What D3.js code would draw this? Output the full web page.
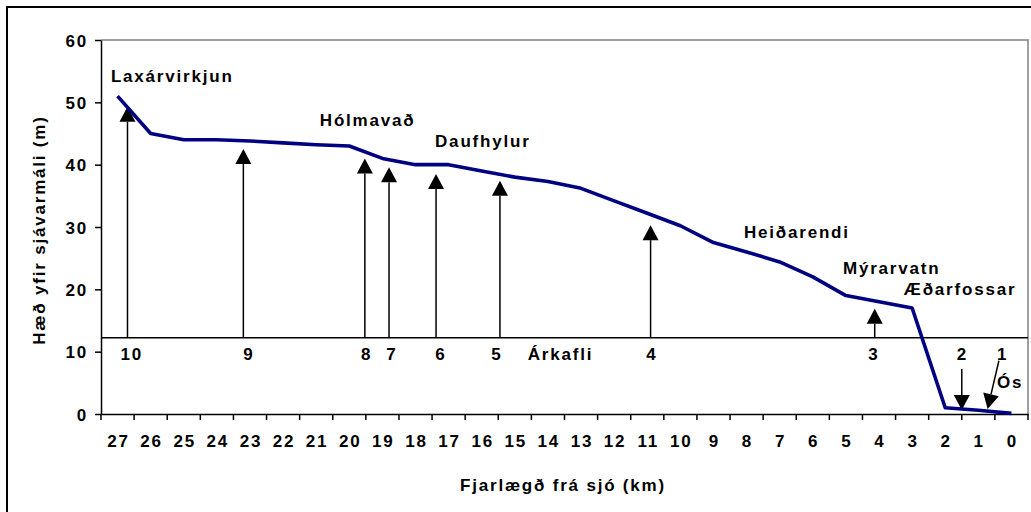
<!DOCTYPE html>
<html>
<head>
<meta charset="utf-8">
<script src="https://cdn.jsdelivr.net/npm/d3@7"></script>
<style>
  body { margin: 0; background: #fff; }
  svg text { font-family: "Liberation Sans", Arial, sans-serif; font-weight: bold; font-size: 17px; letter-spacing: 1.8px; fill: #000; }
</style>
</head>
<body>
<svg id="chart" width="1031" height="512"></svg>
<script>
// ---- data ----
const kmCategories = ["27","26","25","24","23","22","21","20","19","18","17","16","15","14","13","12","11","10","9","8","7","6","5","4","3","2","1","0"];
const elevation = [51, 45, 44, 44, 43.8, 43.5, 43.2, 43, 41, 40, 40, 39, 38, 37.3, 36.2, 34.2, 32.2, 30.2, 27.5, 26, 24.4, 22, 19, 18, 17, 1, 0.6, 0.1];
const yTicks = [0, 10, 20, 30, 40, 50, 60];
const yTitle = "Hæð yfir sjávarmáli (m)";
const xTitle = "Fjarlægð frá sjó (km)";

// station arrows (upward from reference line)
const baseLevel = 12.25;
const upArrowKm = [26.7, 23.2, 19.53, 18.8, 17.38, 15.45, 10.9, 4.13];
const upArrowTip = [49.3, 42.5, 41.0, 39.6, 38.5, 37.4, 30.3, 16.9];
// downward arrows: tail km, tail value, tip km, tip value
const downArrowTailKm = [1.5, 0.38];
const downArrowTailVal = [7.2, 8.55];
const downArrowTipKm = [1.5, 0.72];
const downArrowTipVal = [0.65, 0.8];

// station numbers
const stationNumbers = ["10","9","8","7","6","5","4","3","2","1"];
const stationNumberKm = [26.6, 23.06, 19.5, 18.74, 17.26, 15.57, 10.89, 4.18, 1.51, 0.29];
const stationNumberVal = 8.66;

// place names (left-aligned)
const placeNames = ["Laxárvirkjun","Hólmavað","Daufhylur","Árkafli","Heiðarendi","Mýrarvatn","Æðarfossar","Ós"];
const placeKm = [27.2, 20.89, 17.41, 14.61, 8.08, 5.09, 3.25, 0.44];
const placeVal = [53.3, 46.2, 42.8, 8.66, 28.2, 22.5, 19.1, 4.2];

// ---- layout ----
const svg = d3.select("#chart");
const pLeft = 101, pRight = 1028, pTop = 40, pBottom = 414;

// outer frame (cropped chart border)
svg.append("rect").attr("x", 7).attr("y", 7).attr("width", 1040).attr("height", 520)
  .attr("fill", "none").attr("stroke", "#000").attr("stroke-width", 2);

const x = d3.scaleBand().domain(kmCategories).range([pLeft, pRight]).padding(0);
const bw = x.bandwidth();
const xKm = d3.scaleLinear().domain([27, 0]).range([x("27") + bw / 2, x("0") + bw / 2]);
const y = d3.scaleLinear().domain([0, 60]).range([pBottom, pTop]);

// plot area border (top & right grey)
svg.append("path").attr("d", `M${pLeft},${pTop}H${pRight}V${pBottom}`)
  .attr("fill", "none").attr("stroke", "#808080").attr("stroke-width", 1.5);

// y axis
const yAxis = svg.append("g").attr("transform", `translate(${pLeft},0)`)
  .call(d3.axisLeft(y).tickValues(yTicks).tickSize(6).tickPadding(7).tickSizeOuter(0));
yAxis.select(".domain").attr("stroke", "#000").attr("stroke-width", 1.5);
yAxis.selectAll(".tick line").attr("stroke", "#000").attr("stroke-width", 1.5);
yAxis.selectAll("text").attr("font-size", null).attr("font-family", null).attr("dy", "0.36em");

// x axis
const xAxis = svg.append("g").attr("transform", `translate(0,${pBottom})`)
  .call(d3.axisBottom(x).tickSize(0).tickPadding(21).tickSizeOuter(0));
xAxis.select(".domain").attr("stroke", "#000").attr("stroke-width", 1.5);
xAxis.selectAll("text").attr("font-size", null).attr("font-family", null).attr("dx", "0.9px");
// tick marks between categories
const boundaries = kmCategories.map(k => x(k)).concat([pRight]);
xAxis.selectAll(".bnd").data(boundaries).enter().append("line")
  .attr("x1", d => d).attr("x2", d => d).attr("y1", 0).attr("y2", 6)
  .attr("stroke", "#000").attr("stroke-width", 1.5);

// reference line for stations
svg.append("line").attr("x1", pLeft).attr("x2", pRight)
  .attr("y1", y(baseLevel)).attr("y2", y(baseLevel))
  .attr("stroke", "#000").attr("stroke-width", 1.5);

// arrow helper
function arrow(x1, y1, x2, y2) {
  const len = 15, half = 8;
  const dx = x2 - x1, dy = y2 - y1, L = Math.hypot(dx, dy);
  const ux = dx / L, uy = dy / L;
  const bx = x2 - ux * len, by = y2 - uy * len;
  svg.append("line").attr("x1", x1).attr("y1", y1).attr("x2", bx).attr("y2", by)
    .attr("stroke", "#000").attr("stroke-width", 1.5);
  svg.append("path")
    .attr("d", `M${x2},${y2}L${bx - uy * half},${by + ux * half}L${bx + uy * half},${by - ux * half}Z`)
    .attr("fill", "#000");
}
upArrowKm.forEach((k, i) => arrow(xKm(k), y(baseLevel), xKm(k), y(upArrowTip[i])));
downArrowTailKm.forEach((k, i) => arrow(xKm(k), y(downArrowTailVal[i]), xKm(downArrowTipKm[i]), y(downArrowTipVal[i])));

// elevation line
const line = d3.line().x((d, i) => x(kmCategories[i]) + bw / 2).y(d => y(d));
svg.append("path").datum(elevation).attr("d", line)
  .attr("fill", "none").attr("stroke", "#000080").attr("stroke-width", 3.6)
  .attr("stroke-linejoin", "round");

// station numbers
svg.selectAll(".num").data(stationNumbers).enter().append("text")
  .attr("x", (d, i) => xKm(stationNumberKm[i]) + 0.9)
  .attr("y", y(stationNumberVal))
  .attr("text-anchor", "middle").text(d => d);

// place names
svg.selectAll(".place").data(placeNames).enter().append("text")
  .attr("x", (d, i) => xKm(placeKm[i]))
  .attr("y", (d, i) => y(placeVal[i]))
  .attr("text-anchor", "start").text(d => d);

// axis titles
svg.append("text").attr("transform", `translate(45,230) rotate(-90)`)
  .attr("text-anchor", "middle").text(yTitle);
svg.append("text").attr("x", 563).attr("y", 491)
  .attr("text-anchor", "middle").text(xTitle);
</script>
</body>
</html>
